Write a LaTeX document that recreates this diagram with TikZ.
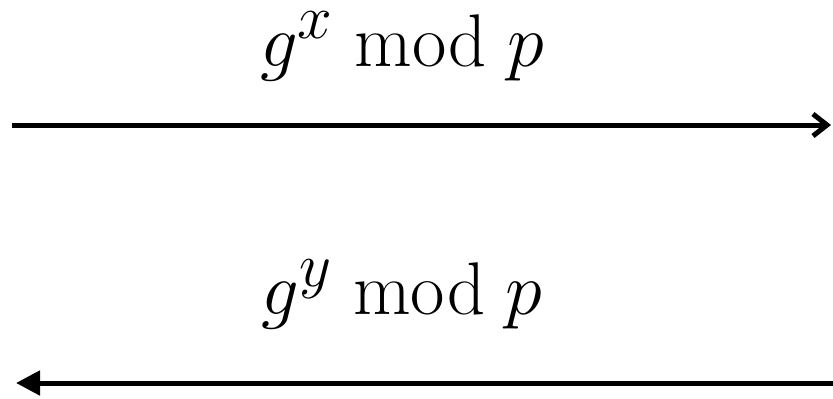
\documentclass[tikz,border=0pt]{standalone}
\usepackage{amsmath,amssymb}
\usepackage{tikz}
\usetikzlibrary{arrows.meta,positioning}

\begin{document}
\begin{tikzpicture}[
  x=0.5pt, y=-0.5pt,
  lab/.style={font=\Huge, scale=1.5, inner sep=0pt},
  msg/.style={line width=2.5pt},
  sendtip/.style={msg, -{Straight Barb[length=7pt, width=11pt, line width=2.5pt]}},
  recvtip/.style={msg, {Triangle[length=12pt, width=12pt]}-}
]
  \useasboundingbox (0,0) rectangle (833,398);
  % outgoing message
  \coordinate (a1) at (12,125);
  \coordinate (b1) at (831,125);
  \draw[sendtip] (a1) -- (b1);
  \node[lab, anchor=base] (gx) at (402,66) {\(g^{x} \bmod p\)};
  % reply
  \coordinate (a2) at (16,383);
  \coordinate (b2) at (833,383);
  \draw[recvtip] (a2) -- (b2);
  \node[lab, anchor=base] (gy) at (402,314) {\(g^{y} \bmod p\)};
\end{tikzpicture}
\end{document}
